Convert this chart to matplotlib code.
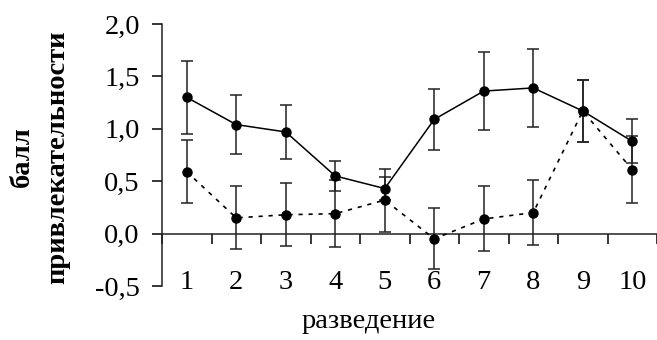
import matplotlib.pyplot as plt
from matplotlib.ticker import MultipleLocator, FuncFormatter

# данные
razvedenie = [1, 2, 3, 4, 5, 6, 7, 8, 9, 10]
x_labels = ['1', '2', '3', '4', '5', '6', '7', '8', '9', '10']
seriya1 = [1.30, 1.04, 0.97, 0.55, 0.43, 1.09, 1.36, 1.39, 1.17, 0.88]
seriya1_err = [0.35, 0.28, 0.26, 0.14, 0.11, 0.29, 0.37, 0.37, 0.30, 0.21]
seriya2 = [0.59, 0.15, 0.18, 0.19, 0.32, -0.05, 0.14, 0.20, 1.17, 0.61]
seriya2_err = [0.30, 0.30, 0.30, 0.32, 0.30, 0.29, 0.31, 0.31, 0.30, 0.32]

plt.rcParams['font.family'] = ['Liberation Serif', 'DejaVu Serif']
fs = 20.5

fig = plt.figure(figsize=(6.57, 3.40), dpi=100)
ax = fig.add_axes([162 / 657, 54 / 340, 495 / 657, 262 / 340])

err_kw = dict(fmt='none', ecolor='#222222', elinewidth=1.1, capsize=4.5, capthick=1.1, zorder=2)
ax.errorbar(razvedenie, seriya1, yerr=seriya1_err, **err_kw)
ax.errorbar(razvedenie, seriya2, yerr=seriya2_err, **err_kw)

ax.plot(razvedenie, seriya1, color='black', lw=1.1, marker='o', ms=6.5, zorder=3)
ax.plot(razvedenie, seriya2, color='black', lw=1.2, linestyle=(0, (2.5, 3.5)),
        marker='o', ms=6.5, zorder=3)

ax.set_xlim(0.5, 10.5)
ax.set_ylim(-0.5, 2.0)

ax.spines['top'].set_visible(False)
ax.spines['right'].set_visible(False)
ax.spines['bottom'].set_position(('data', 0))
for s in ('left', 'bottom'):
    ax.spines[s].set_linewidth(1.1)
    ax.spines[s].set_color('#222222')

ax.yaxis.set_major_locator(MultipleLocator(0.5))
ax.yaxis.set_major_formatter(FuncFormatter(lambda v, p: ('%.1f' % v).replace('.', ',')))
ax.tick_params(axis='y', direction='out', length=7, width=1.1, pad=9, labelsize=fs)

ax.set_xticks(razvedenie)
ax.set_xticklabels(x_labels)
ax.set_xticks([i + 0.5 for i in range(0, 11)], minor=True)
ax.tick_params(axis='x', which='major', length=0, pad=26.5, labelsize=fs)
ax.tick_params(axis='x', which='minor', direction='out', length=7, width=1.1)

fig.text(369 / 657, 18 / 340, 'разведение', ha='center', va='center', fontsize=fs)
fig.text(40 / 657, 183 / 340, 'балл\nпривлекательности', rotation=90, ha='center',
         va='center', multialignment='center', fontsize=fs, fontweight='bold',
         linespacing=1.55)

fig.savefig('out.png', dpi=100)
